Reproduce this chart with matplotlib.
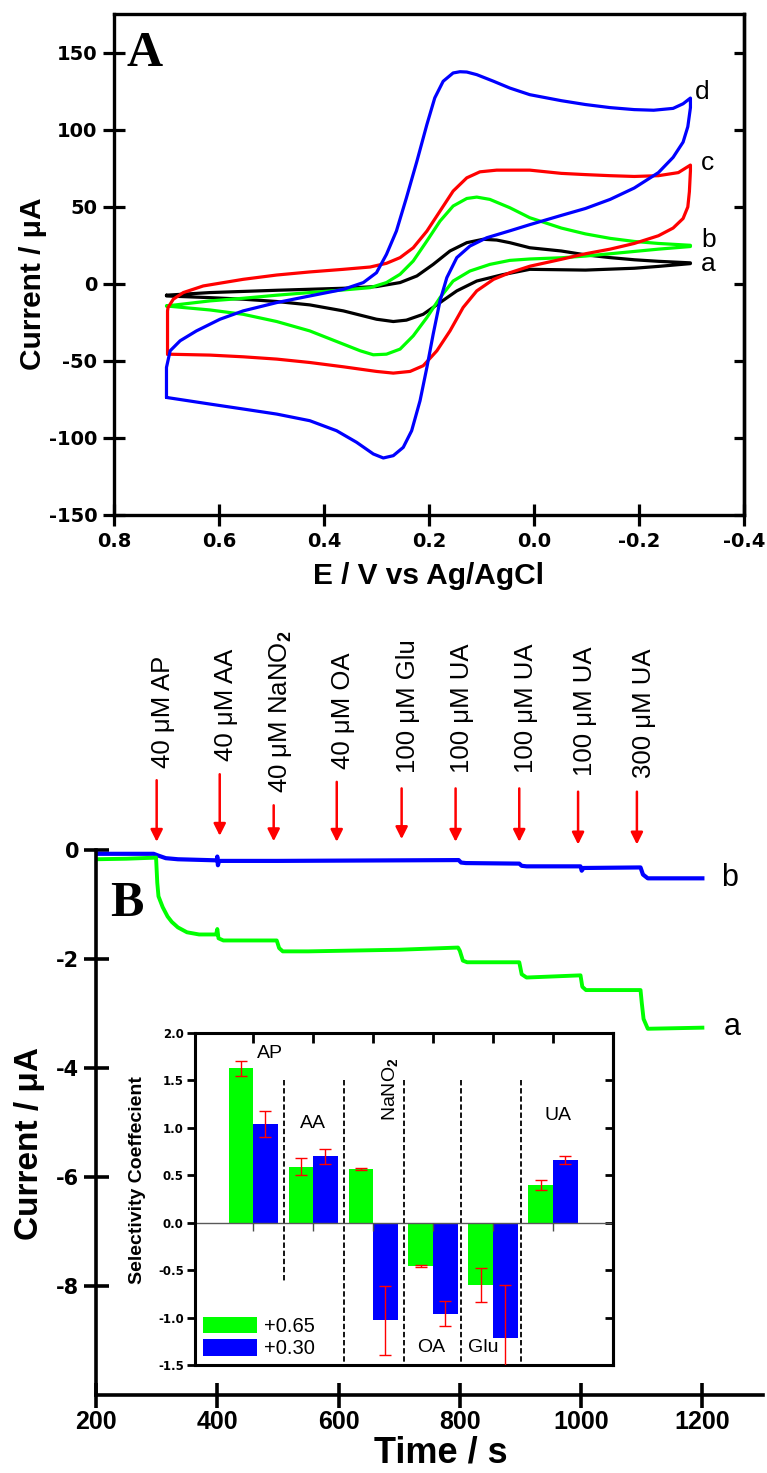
import matplotlib
matplotlib.use('Agg')
import matplotlib.pyplot as plt
import numpy as np

# ---------------- panel A: cyclic voltammograms, E (V) vs I (uA), closed loops
E_a = [0.700, 0.617, 0.490, 0.363, 0.300, 0.255, 0.223, 0.192, 0.160, 0.128, 0.097, 0.071, 0.046,
       0.008, -0.052, -0.098, -0.145, -0.191, -0.237, -0.298,
       -0.298, -0.237, -0.191, -0.098, 0.008, 0.060, 0.109, 0.147, 0.179, 0.211, 0.243, 0.268,
       0.300, 0.363, 0.427, 0.490, 0.554, 0.617, 0.700, 0.700]
I_a = [-7.3, -5.6, -4.1, -2.8, -1.7, 0.9, 5.2, 12.7, 21.4, 26.8, 29.0, 28.5, 26.8,
       23.5, 21.4, 18.9, 17.1, 15.7, 14.7, 13.7,
       13.2, 11.4, 10.2, 9.0, 9.5, 6.0, 1.9, -4.5, -12.1, -19.7, -23.5, -24.4,
       -22.9, -17.5, -13.6, -11.4, -9.9, -8.9, -7.8, -7.3]

E_b = [0.700, 0.617, 0.554, 0.490, 0.427, 0.363, 0.312, 0.281, 0.255, 0.230, 0.204, 0.179, 0.154,
       0.128, 0.109, 0.084, 0.046, 0.008, -0.052, -0.098, -0.145, -0.191, -0.237, -0.298,
       -0.298, -0.237, -0.191, -0.145, -0.098, -0.052, 0.008, 0.046, 0.084, 0.122, 0.154, 0.179,
       0.204, 0.230, 0.255, 0.281, 0.306, 0.331, 0.363, 0.427, 0.490, 0.554, 0.617, 0.700]
I_b = [-14.3, -11.0, -9.3, -7.3, -5.6, -3.9, -2.4, 0.9, 6.3, 14.9, 27.9, 40.8, 50.6,
       55.5, 56.4, 54.9, 49.5, 43.0, 36.3, 32.5, 29.6, 27.6, 26.3, 25.1,
       24.3, 22.6, 21.1, 19.6, 18.1, 17.0, 16.2, 15.3, 12.7, 8.4, 1.9, -8.9,
       -21.8, -33.7, -42.3, -45.6, -46.0, -43.4, -39.1, -30.5, -24.4, -19.7, -16.9, -14.3]

E_c = [0.698, 0.698, 0.697, 0.687, 0.668, 0.630, 0.554, 0.490, 0.427, 0.363, 0.312, 0.281, 0.255,
       0.230, 0.204, 0.179, 0.154, 0.128, 0.103, 0.071, 0.008, -0.052, -0.098, -0.145, -0.191,
       -0.237, -0.275, -0.298,
       -0.298, -0.296, -0.293, -0.284, -0.265, -0.237, -0.191, -0.145, -0.098, -0.052, 0.008,
       0.046, 0.077, 0.109, 0.135, 0.160, 0.185, 0.211, 0.236, 0.268, 0.300, 0.363, 0.427, 0.490,
       0.554, 0.617, 0.698]
I_c = [-45.6, -17.5, -15.3, -9.9, -5.6, -1.3, 3.0, 5.8, 7.8, 9.5, 11.0, 13.4, 17.1,
       23.5, 34.3, 47.3, 60.3, 68.9, 72.8, 73.9, 73.9, 71.8, 71.0, 70.3, 69.8,
       70.3, 72.3, 77.2,
       73.5, 59.9, 50.0, 42.5, 36.3, 31.3, 26.3, 22.6, 19.6, 16.0, 11.5,
       7.3, 3.0, -4.5, -15.3, -30.5, -43.4, -53.1, -56.8, -57.9, -56.8, -53.8, -51.0, -48.8,
       -47.3, -46.2, -45.6]

E_d = [0.700, 0.700, 0.693, 0.674, 0.643, 0.598, 0.554, 0.490, 0.427, 0.363, 0.325, 0.300, 0.281,
       0.262, 0.243, 0.223, 0.204, 0.189, 0.173, 0.154, 0.141, 0.128, 0.109, 0.077, 0.046, 0.008,
       -0.052, -0.098, -0.145, -0.191, -0.228, -0.265, -0.284, -0.298,
       -0.298, -0.293, -0.284, -0.265, -0.237, -0.191, -0.145, -0.098, -0.052, 0.008, 0.046,
       0.090, 0.122, 0.147, 0.166, 0.179, 0.192, 0.204, 0.217, 0.233, 0.249, 0.268, 0.287, 0.306,
       0.338, 0.376, 0.427, 0.490, 0.554, 0.617, 0.700]
I_d = [-73.7, -54.2, -43.4, -36.9, -30.5, -22.9, -17.5, -12.1, -7.8, -3.5, 0.9, 7.3, 19.2,
       34.4, 55.9, 79.7, 103.5, 120.8, 131.6, 137.0, 137.8, 137.6, 135.9, 131.6, 127.2, 122.9,
       119.0, 116.5, 114.5, 113.2, 112.8, 114.0, 117.0, 120.7,
       114.5, 102.1, 92.1, 82.2, 72.3, 62.3, 54.9, 49.0, 44.5, 38.5, 34.5,
       30.0, 24.6, 17.1, 4.1, -11.0, -32.6, -54.2, -75.8, -95.3, -106.1, -111.5, -113.0, -110.4,
       -102.8, -95.3, -88.8, -84.5, -81.2, -78.0, -73.7]

cv_names = ['a', 'b', 'c', 'd']
cv_colors = ['black', '#00ff00', '#ff0000', '#0000ff']
E_ticks = [0.8, 0.6, 0.4, 0.2, 0.0, -0.2, -0.4]
I_ticks = [-150, -100, -50, 0, 50, 100, 150]

# ---------------- panel B: amperometric traces, time (s) vs current (uA)
t_b = [200, 250, 295, 302, 315, 335, 399, 400, 401, 403, 450, 500, 600, 700, 798, 802, 810,
       898, 902, 910, 999, 1001, 1004, 1098, 1102, 1110, 1200]
cur_b = [-0.07, -0.07, -0.07, -0.10, -0.15, -0.17, -0.19, -0.12, -0.28, -0.20, -0.20, -0.20,
         -0.195, -0.19, -0.185, -0.23, -0.24, -0.25, -0.29, -0.30, -0.30, -0.38, -0.33, -0.32,
         -0.45, -0.52, -0.52]

t_a = [200, 250, 299, 301, 303, 310, 318, 325, 335, 350, 370, 398, 400, 402, 410, 498, 502, 508,
       550, 600, 700, 797, 800, 805, 812, 898, 902, 910, 999, 1002, 1008, 1098, 1100, 1103, 1110,
       1200]
cur_a = [-0.17, -0.16, -0.14, -0.60, -0.85, -1.05, -1.22, -1.32, -1.42, -1.51, -1.55, -1.55,
         -1.45, -1.62, -1.66, -1.66, -1.80, -1.86, -1.86, -1.85, -1.83, -1.79, -1.85, -2.03,
         -2.06, -2.06, -2.28, -2.34, -2.30, -2.51, -2.57, -2.57, -2.80, -3.10, -3.28, -3.26]

add_times = [300, 404, 493, 597, 704, 793, 898, 995, 1092]
add_labels = ['40 \u03bcM AP', '40 \u03bcM AA', '40 \u03bcM NaNO$_2$', '40 \u03bcM OA',
              '100 \u03bcM Glu', '100 \u03bcM UA', '100 \u03bcM UA', '100 \u03bcM UA',
              '300 \u03bcM UA']
arrow_top = [1.28, 1.39, 0.82, 1.25, 1.13, 1.13, 1.13, 1.07, 1.07]
arrow_tip = [0.15, 0.26, 0.16, 0.15, 0.20, 0.15, 0.15, 0.10, 0.10]
label_base = [1.50, 1.63, 1.04, 1.49, 1.41, 1.41, 1.41, 1.35, 1.32]
t_ticks = [200, 400, 600, 800, 1000, 1200]
cur_ticks = [0, -2, -4, -6, -8]

# ---------------- inset: selectivity coefficients
species = ['AP', 'AA', 'NaNO$_2$', 'OA', 'Glu', 'UA']
sel_065 = [1.63, 0.59, 0.57, -0.46, -0.66, 0.40]
err_065 = [0.08, 0.09, 0.01, 0.01, 0.18, 0.05]
sel_030 = [1.04, 0.70, -1.03, -0.96, -1.21, 0.66]
err_030 = [0.14, 0.08, 0.36, 0.13, 0.55, 0.04]
sel_ticks = [-1.5, -1.0, -0.5, 0.0, 0.5, 1.0, 1.5, 2.0]

plt.rcParams['font.family'] = ['Liberation Sans', 'DejaVu Sans']
plt.rcParams['font.weight'] = 'bold'
plt.rcParams['axes.unicode_minus'] = False
plt.rcParams['mathtext.fontset'] = 'custom'
plt.rcParams['mathtext.rm'] = 'Liberation Sans'
plt.rcParams['mathtext.default'] = 'rm'

fig = plt.figure(figsize=(7.67, 14.73), dpi=100)

# ---- panel A
axA = fig.add_axes([0.1486, 0.6504, 0.8214, 0.3398])
cv_E = [E_a, E_b, E_c, E_d]
cv_I = [I_a, I_b, I_c, I_d]
for E, I, col in zip(cv_E, cv_I, cv_colors):
    axA.plot(E, I, color=col, lw=2.3, solid_joinstyle='round', solid_capstyle='round')
axA.set_xlim(0.8, -0.4)
axA.set_ylim(-150, 175)
axA.set_xticks(E_ticks)
axA.set_yticks(I_ticks)
axA.tick_params(direction='inout', length=16, width=2.3, labelsize=14, pad=4,
                labelfontfamily='DejaVu Sans')
for sp in axA.spines.values():
    sp.set_linewidth(2.4)
secA = axA.secondary_yaxis('right')
secA.set_yticks(I_ticks)
secA.tick_params(direction='in', length=7, width=2.3, labelright=False)
secA.spines['right'].set_linewidth(2.4)

curve_lab_pos = [(-0.332, 12.7), (-0.332, 28.8), (-0.330, 78.5), (-0.321, 124.4)]
for name, (ex, iy) in zip(cv_names, curve_lab_pos):
    axA.text(ex, iy, name, fontsize=19, fontweight='normal', ha='center', va='center')
axA.text(0.742, 149, 'A', family='Liberation Serif', fontsize=36, fontweight='bold',
         ha='center', va='center')
axA.set_xlabel('E / V vs Ag/AgCl', fontsize=21.5, fontweight='bold')
axA.xaxis.set_label_coords(0.4985, -0.094)
axA.set_ylabel('Current / \u03bcA', fontsize=21.5, fontweight='bold')
axA.yaxis.set_label_coords(-0.107, 0.4615)

# ---- panel B
axB = fig.add_axes([0.1252, 0.05295, 0.8696, 0.370])
axB.plot(t_b, cur_b, color='#0000ff', lw=3)
axB.plot(t_a, cur_a, color='#00ff00', lw=2.8)
axB.set_xlim(200, 1300)
axB.set_ylim(-10, 0)
axB.spines['top'].set_visible(False)
axB.spines['right'].set_visible(False)
for sp in ['left', 'bottom']:
    axB.spines[sp].set_linewidth(2.6)
axB.set_xticks(t_ticks)
axB.set_yticks(cur_ticks)
axB.tick_params(direction='inout', length=18, width=2.6)
axB.tick_params(axis='x', labelsize=18, pad=2)
axB.tick_params(axis='y', labelsize=15, pad=3, labelfontfamily='DejaVu Sans')

for t, lab, top, tip, base in zip(add_times, add_labels, arrow_top, arrow_tip, label_base):
    axB.annotate('', xy=(t, tip), xytext=(t, top), annotation_clip=False,
                 arrowprops=dict(arrowstyle='-|>,head_length=0.6,head_width=0.3',
                                 color='red', lw=1.8, mutation_scale=12,
                                 shrinkA=0, shrinkB=0))
    axB.text(t + 11, base, lab, rotation=90, ha='center', va='bottom', fontsize=18.5,
             fontweight='normal', clip_on=False)

axB.text(1245, -0.51, 'b', fontsize=22, fontweight='normal', ha='center', va='center')
axB.text(1249, -3.25, 'a', fontsize=22, fontweight='normal', ha='center', va='center')
axB.text(251, -1.0, 'B', family='Liberation Serif', fontsize=36, fontweight='bold',
         ha='center', va='center')
axB.set_xlabel('Time / s', fontsize=26, fontweight='bold')
axB.xaxis.set_label_coords(0.517, -0.0734)
axB.set_ylabel('Current / \u03bcA', fontsize=24, fontweight='bold')
axB.yaxis.set_label_coords(-0.0765, 0.4606)

# ---- inset
ins = fig.add_axes([0.2542, 0.0733, 0.545, 0.2254])
x = np.arange(len(species))
w = 0.41
ins.bar(x - w / 2, sel_065, w, color='#00ff00', label='+0.65', zorder=2)
ins.bar(x + w / 2, sel_030, w, color='#0000ff', label='+0.30', zorder=2)
ins.errorbar(x - w / 2, sel_065, yerr=err_065, fmt='none', ecolor='red', elinewidth=1,
             capsize=4, capthick=1, zorder=3)
ins.errorbar(x + w / 2, sel_030, yerr=err_030, fmt='none', ecolor='red', elinewidth=1,
             capsize=4, capthick=1, zorder=3)
ins.axhline(0, color='0.35', lw=1, zorder=2.5)
ins.plot(x, np.zeros(len(x)), ls='none', marker=3, ms=6, mew=1, color='0.3', zorder=2.6)

separators = [0.52, 1.52, 2.52, 3.46, 4.47]
sep_bottom = [-0.63, -1.5, -1.5, -1.5, -1.5]
for sx, sb in zip(separators, sep_bottom):
    ins.plot([sx, sx], [1.5, sb], color='black', lw=1.3, ls=(0, (3, 1.5)), zorder=1)

ins.set_xlim(-0.97, 6.0)
ins.set_ylim(-1.5, 2.0)
ins.set_xticks(x)
ins.tick_params(axis='x', bottom=False, top=True, labelbottom=False, direction='in',
                length=7, width=2)
ins.set_yticks(sel_ticks)
ins.tick_params(axis='y', direction='out', length=6, width=2, labelsize=8.5, pad=2,
                labelfontfamily='DejaVu Sans')
for sp in ins.spines.values():
    sp.set_linewidth(2.2)
secI = ins.secondary_yaxis('right')
secI.set_yticks(sel_ticks)
secI.tick_params(direction='in', length=6, width=2, labelright=False)
secI.spines['right'].set_linewidth(2.2)

ins.set_ylabel('Selectivity Coeffecient', fontsize=14, fontweight='bold')
ins.yaxis.set_label_coords(-0.116, 0.557)

cat_lab_pos = [(0.28, 1.78), (0.99, 1.05), (2.29, 1.41), (2.97, -1.31), (3.84, -1.31),
               (5.09, 1.135)]
for name, (cx, cy) in zip(species, cat_lab_pos):
    rot = 90 if 'NaNO' in name else 0
    ins.text(cx, cy, name, fontsize=14, fontweight='normal', ha='center', va='center',
             rotation=rot)

ins.legend(loc='lower left', bbox_to_anchor=(0.02, 0.02), frameon=False,
           prop={'size': 14.5, 'weight': 'normal'}, handlelength=2.65, handleheight=0.9,
           handletextpad=0.35, labelspacing=0.15, borderpad=0, borderaxespad=0)

fig.savefig('out.png', dpi=100)
